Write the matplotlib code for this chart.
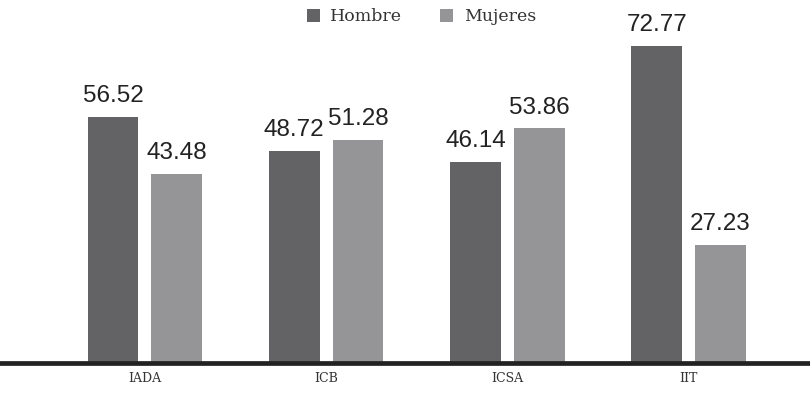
import numpy as np
import matplotlib.pyplot as plt

categories = ["IADA", "ICB", "ICSA", "IIT"]
hombre = [56.52, 48.72, 46.14, 72.77]
mujeres = [43.48, 51.28, 53.86, 27.23]

dark = "#636365"
light = "#959598"

fig = plt.figure(figsize=(8.1, 4.01), dpi=100)
ax = fig.add_axes([0.0, 0.094, 1.0, 0.906])

x = np.arange(len(categories))
w = 0.28
off = 0.176

b1 = ax.bar(x - off, hombre, w, color=dark, label="Hombre")
b2 = ax.bar(x + off, mujeres, w, color=light, label="Mujeres")

# value labels above each bar
for bars, vals in ((b1, hombre), (b2, mujeres)):
    for rect, v in zip(bars, vals):
        ax.annotate(f"{v:.2f}", (rect.get_x() + rect.get_width() / 2, v),
                    xytext=(0, 7), textcoords="offset points",
                    ha="center", va="bottom", fontsize=17.5,
                    family="Liberation Sans", color="#222222")

ax.set_xlim(-0.80, 3.67)
ax.set_ylim(0, 83.3)
ax.axhline(0, color="#222222", linewidth=3.4, clip_on=False)

for s in ax.spines.values():
    s.set_visible(False)
ax.set_yticks([])
ax.set_xticks(x)
ax.set_xticklabels(categories, family="DejaVu Serif", fontsize=9, color="#333333")
ax.tick_params(axis="x", length=0, pad=6)

leg = ax.legend(loc="upper center", bbox_to_anchor=(0.52, 1.02), ncol=2,
                frameon=False, handlelength=0.75, handleheight=0.75,
                columnspacing=2.2, handletextpad=0.6,
                prop={"family": "DejaVu Serif", "size": 12.5})
for t in leg.get_texts():
    t.set_color("#333333")

fig.savefig("out.png", dpi=100)
